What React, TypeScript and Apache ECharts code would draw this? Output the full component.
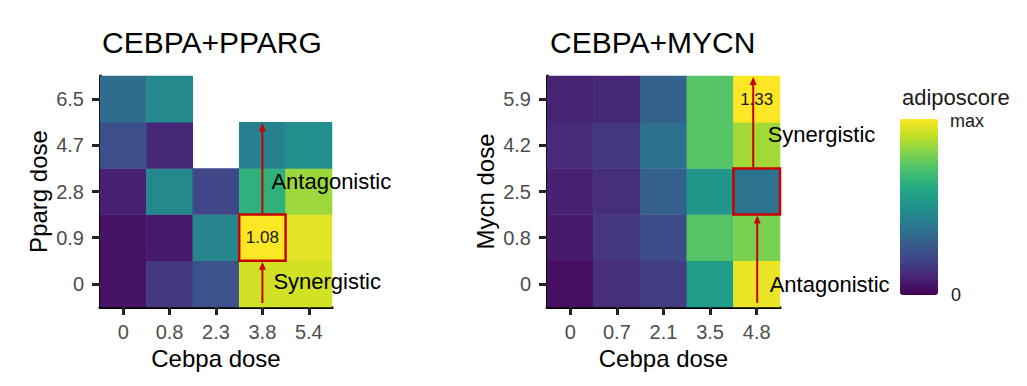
import React, { useEffect, useRef } from "react";
import * as echarts from "echarts";

// ---- data ----
const ppargCebpaDoses = ["0", "0.8", "2.3", "3.8", "5.4"];
const ppargDoses = ["0", "0.9", "2.8", "4.7", "6.5"];
// rows: pparg dose (bottom -> top), columns: cebpa dose
const ppargScores: (number | null)[][] = [
  [0.05, 0.17, 0.25, 0.93, 0.93],
  [0.05, 0.07, 0.45, 1.0, 0.96],
  [0.09, 0.47, 0.21, 0.64, 0.85],
  [0.24, 0.11, null, 0.43, 0.49],
  [0.35, 0.47, null, null, null],
];

const mycnCebpaDoses = ["0", "0.7", "2.1", "3.5", "4.8"];
const mycnDoses = ["0", "0.8", "2.5", "4.2", "5.9"];
const mycnScores: (number | null)[][] = [
  [0.04, 0.13, 0.18, 0.55, 0.97],
  [0.07, 0.16, 0.23, 0.73, 0.8],
  [0.09, 0.13, 0.3, 0.52, 0.38],
  [0.12, 0.16, 0.37, 0.73, 0.86],
  [0.1, 0.11, 0.31, 0.73, 1.0],
];

const titles = ["CEBPA+PPARG", "CEBPA+MYCN"];
const yNames = ["Pparg dose", "Mycn dose"];
const xName = "Cebpa dose";
const legendTitle = "adiposcore";
const legendTicks = ["max", "0"];

// annotations (cell indices in category space)
const ppargHighlight = { x: 3, y: 1, label: "1.08", labelX: 3, labelY: 1, topRow: 3 };
const mycnHighlight = { x: 4, y: 2, label: "1.33", labelX: 4, labelY: 4, topRow: 4 };
const ppargNotes = [
  { text: "Antagonistic", x: 3, y: 2 },
  { text: "Synergistic", x: 3, y: 0 },
];
const mycnNotes = [
  { text: "Synergistic", x: 4, y: 3 },
  { text: "Antagonistic", x: 4, y: 0 },
];

const viridis = [
  "#440154", "#482475", "#414487", "#355f8d", "#2a788e", "#21918c",
  "#22a884", "#44bf70", "#7ad151", "#bddf26", "#fde725",
];

const FONT = "Liberation Sans, Arial, Helvetica, sans-serif";
const RED = "#c80000";

function toHeat(scores: (number | null)[][]) {
  const out: number[][] = [];
  scores.forEach((row, yi) =>
    row.forEach((v, xi) => {
      if (v !== null) out.push([xi, yi, v]);
    })
  );
  return out;
}

function makeRenderItem(
  hl: typeof ppargHighlight,
  notes: { text: string; x: number; y: number }[],
  noteOffsets: [number, number][],
  upperDx: number,
  lowerDx: number
) {
  return (params: any, api: any) => {
    const [cx, cy] = api.coord([hl.x, hl.y]);
    const [w, h] = api.size([1, 1]);
    const cs = params.coordSys;
    const bottom = cs.y + cs.height;
    const topY = api.coord([hl.x, hl.topRow])[1] - h / 2;
    const boxTop = cy - h / 2;
    const boxBottom = cy + h / 2;
    const head = 8;
    const hw = 3.5;
    const lx = cx + lowerDx;
    const ux = cx + upperDx;
    const [labX, labY] = api.coord([hl.labelX, hl.labelY]);
    const children: any[] = [
      {
        type: "rect",
        shape: { x: cx - w / 2, y: boxTop, width: w, height: h },
        style: { fill: "none", stroke: RED, lineWidth: 2.5 },
      },
      {
        type: "line",
        shape: { x1: lx, y1: bottom - 4, x2: lx, y2: boxBottom + head },
        style: { stroke: RED, lineWidth: 2 },
      },
      {
        type: "polygon",
        shape: { points: [[lx, boxBottom + 1], [lx - hw, boxBottom + head + 1], [lx + hw, boxBottom + head + 1]] },
        style: { fill: RED },
      },
      {
        type: "line",
        shape: { x1: ux, y1: boxTop - 1, x2: ux, y2: topY + head },
        style: { stroke: RED, lineWidth: 2 },
      },
      {
        type: "polygon",
        shape: { points: [[ux, topY + 1], [ux - hw, topY + head + 1], [ux + hw, topY + head + 1]] },
        style: { fill: RED },
      },
      {
        type: "text",
        x: labX,
        y: labY,
        style: {
          text: hl.label, align: "center", verticalAlign: "middle",
          fontSize: 17, fontFamily: FONT, fill: "#1a1a1a",
        },
      },
    ];
    notes.forEach((n, i) => {
      const [nx, ny] = api.coord([n.x, n.y]);
      children.push({
        type: "text",
        x: nx + noteOffsets[i][0],
        y: ny + noteOffsets[i][1],
        style: {
          text: n.text, align: "left", verticalAlign: "middle",
          fontSize: 22, fontFamily: FONT, fill: "#000",
        },
      });
    });
    return { type: "group", children };
  };
}

function axisPair(idx: number, xCats: string[], yCats: string[], yName: string) {
  const common = {
    gridIndex: idx,
    type: "category" as const,
    axisLine: { show: true, lineStyle: { color: "#000", width: 3 } },
    axisTick: { show: true, alignWithLabel: true, length: 8, lineStyle: { color: "#222", width: 3 } },
    splitLine: { show: false },
    nameLocation: "middle" as const,
    nameTextStyle: { fontSize: 24, fontFamily: FONT, color: "#000" },
  };
  return {
    x: {
      ...common,
      data: xCats,
      name: xName,
      nameGap: 38,
      axisLabel: { fontSize: 20, fontFamily: FONT, color: "#4d4d4d", margin: 15 },
    },
    y: {
      ...common,
      data: yCats,
      name: yName,
      nameGap: 50,
      axisLabel: { fontSize: 20, fontFamily: FONT, color: "#4d4d4d", margin: 16 },
    },
  };
}

export default function App() {
  const ref = useRef<HTMLDivElement>(null);
  useEffect(() => {
    if (!ref.current) return;
    const chart = echarts.init(ref.current, undefined, { renderer: "svg" });
    const a = axisPair(0, ppargCebpaDoses, ppargDoses, yNames[0]);
    const b = axisPair(1, mycnCebpaDoses, mycnDoses, yNames[1]);
    chart.setOption({
      animation: false,
      backgroundColor: "#fff",
      textStyle: { fontFamily: FONT },
      title: [
        { text: titles[0], left: 102, top: 27, padding: 0, textStyle: { fontSize: 30, fontWeight: "normal", color: "#000", fontFamily: FONT } },
        { text: titles[1], left: 550, top: 27, padding: 0, textStyle: { fontSize: 30, fontWeight: "normal", color: "#000", fontFamily: FONT } },
      ],
      grid: [
        { left: 100, top: 76, width: 232, height: 231 },
        { left: 547, top: 76, width: 233, height: 231 },
      ],
      xAxis: [a.x, b.x],
      yAxis: [a.y, b.y],
      visualMap: {
        type: "continuous",
        min: 0,
        max: 1,
        seriesIndex: [0, 1],
        inRange: { color: viridis },
        orient: "vertical",
        left: 900,
        top: 119,
        padding: 0,
        itemWidth: 38,
        itemHeight: 176,
        calculable: false,
        hoverLink: false,
        text: undefined,
      },
      graphic: [
        { type: "text", left: 902, top: 86, style: { text: legendTitle, fontSize: 22, fontFamily: FONT, fill: "#1a1a1a" } },
        { type: "text", left: 950, top: 112, style: { text: legendTicks[0], fontSize: 18, fontFamily: FONT, fill: "#1a1a1a" } },
        { type: "text", left: 951, top: 286, style: { text: legendTicks[1], fontSize: 18, fontFamily: FONT, fill: "#1a1a1a" } },
      ],
      series: [
        { type: "heatmap", xAxisIndex: 0, yAxisIndex: 0, data: toHeat(ppargScores), itemStyle: { borderWidth: 0 }, z: 1 },
        { type: "heatmap", xAxisIndex: 1, yAxisIndex: 1, data: toHeat(mycnScores), itemStyle: { borderWidth: 0 }, z: 1 },
        {
          type: "custom", xAxisIndex: 0, yAxisIndex: 0, clip: false, z: 5,
          data: [[ppargHighlight.x, ppargHighlight.y]],
          renderItem: makeRenderItem(ppargHighlight, ppargNotes, [[9, -10], [11, -2]], 0, 0),
        },
        {
          type: "custom", xAxisIndex: 1, yAxisIndex: 1, clip: false, z: 5,
          data: [[mycnHighlight.x, mycnHighlight.y]],
          renderItem: makeRenderItem(mycnHighlight, mycnNotes, [[11, -11], [13, 1]], -3.5, 0.5),
        },
      ],
    });
    return () => chart.dispose();
  }, []);
  return (
    <div
      ref={ref}
      style={{ position: "fixed", left: 0, top: 0, width: 1027, height: 386, background: "#fff" }}
    />
  );
}
